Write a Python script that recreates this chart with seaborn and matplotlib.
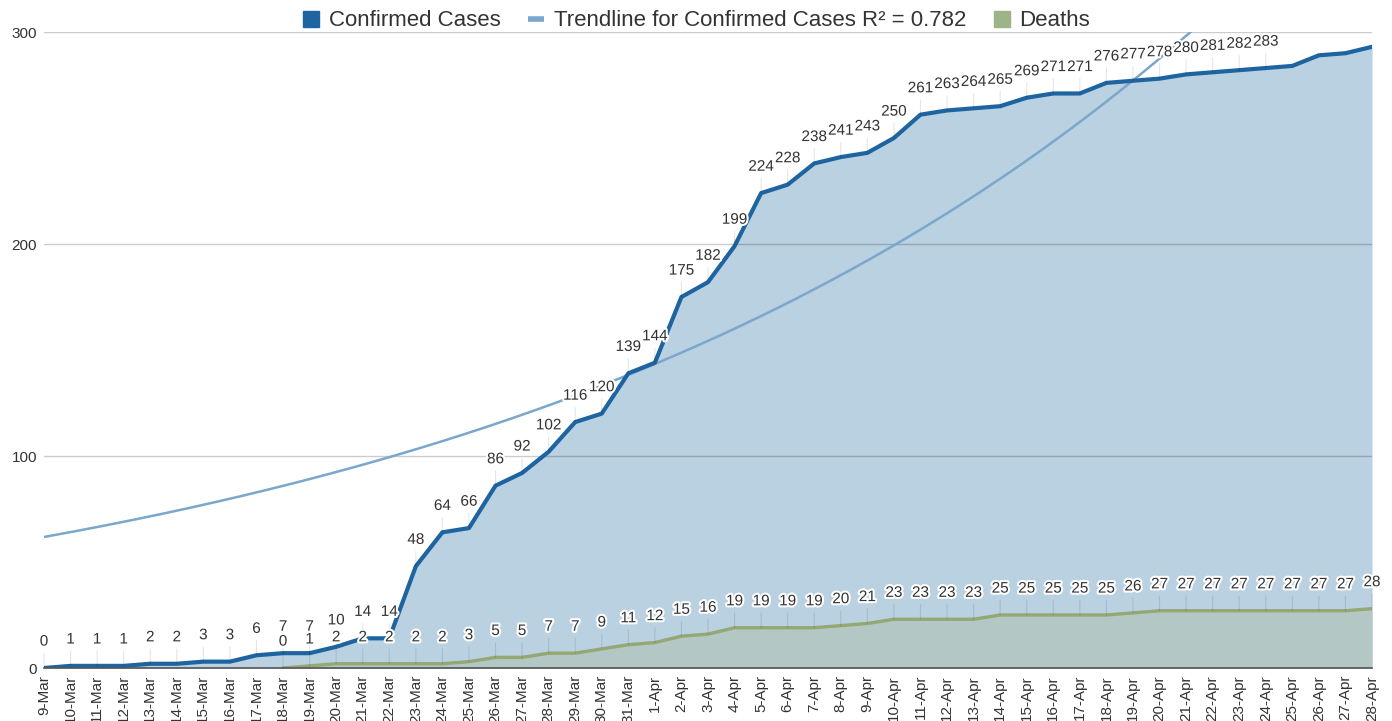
import numpy as np
import pandas as pd
import matplotlib
matplotlib.use("Agg")
import matplotlib.pyplot as plt
import matplotlib.patheffects as pe
from matplotlib.lines import Line2D
import seaborn as sns

days = ['9-Mar', '10-Mar', '11-Mar', '12-Mar', '13-Mar', '14-Mar', '15-Mar', '16-Mar',
        '17-Mar', '18-Mar', '19-Mar', '20-Mar', '21-Mar', '22-Mar', '23-Mar', '24-Mar',
        '25-Mar', '26-Mar', '27-Mar', '28-Mar', '29-Mar', '30-Mar', '31-Mar',
        '1-Apr', '2-Apr', '3-Apr', '4-Apr', '5-Apr', '6-Apr', '7-Apr', '8-Apr', '9-Apr',
        '10-Apr', '11-Apr', '12-Apr', '13-Apr', '14-Apr', '15-Apr', '16-Apr', '17-Apr',
        '18-Apr', '19-Apr', '20-Apr', '21-Apr', '22-Apr', '23-Apr', '24-Apr', '25-Apr',
        '26-Apr', '27-Apr', '28-Apr']

confirmed = [0, 1, 1, 1, 2, 2, 3, 3, 6, 7, 7, 10, 14, 14, 48, 64, 66, 86, 92, 102, 116, 120, 139,
             144, 175, 182, 199, 224, 228, 238, 241, 243, 250, 261, 263, 264, 265, 269, 271, 271,
             276, 277, 278, 280, 281, 282, 283, 284, 289, 290, 293]

deaths = [None] * 9 + [0, 1, 2, 2, 2, 2, 2, 3, 5, 5, 7, 7, 9, 11,
                       12, 15, 16, 19, 19, 19, 19, 20, 21, 23, 23, 23, 23, 25, 25, 25, 25,
                       25, 26, 27, 27, 27, 27, 27, 27, 27, 27, 28]

# confirmed-case labels shown in the reference (last four hidden under the legend)
n_confirmed_labels = 47

# exponential trendline: y = a * exp(b * x)
trend_a = 61.8
trend_b = 0.0366
r_squared = 0.782

yticks = [0, 100, 200, 300]

C_LINE = '#1d64a0'
C_FILL = '#bad1e2'
C_TREND = '#7aa7cb'
C_DLINE = '#93a873'
C_DFILL = '#b3c7c4'
C_TEXT = '#333333'

sns.set_style("white")
plt.rcParams['font.family'] = ['Liberation Sans', 'DejaVu Sans']

df = pd.DataFrame({'x': np.arange(len(days)), 'day': days,
                   'confirmed': confirmed,
                   'deaths': pd.to_numeric(pd.Series(deaths), errors='coerce')})

fig = plt.figure(figsize=(13.92, 7.21), dpi=100)
ax = fig.add_axes([44 / 1392, 1 - 668 / 721, (1372 - 44) / 1392, (668 - 32) / 721])

# areas
ax.fill_between(df['x'], 0, df['confirmed'], color=C_FILL, lw=0, zorder=1)
dd = df.dropna(subset=['deaths'])
ax.fill_between(dd['x'], 0, dd['deaths'], color=C_DFILL, lw=0, zorder=1.1)

# trendline
xt = np.linspace(0, len(days) - 1, 400)
trend_df = pd.DataFrame({'x': xt, 'y': trend_a * np.exp(trend_b * xt)})
sns.lineplot(data=trend_df, x='x', y='y', ax=ax, color=C_TREND, lw=1.8, zorder=2.2)

# lines
sns.lineplot(data=df, x='x', y='confirmed', ax=ax, color=C_LINE, lw=3.0, zorder=2.5)
sns.lineplot(data=dd, x='x', y='deaths', ax=ax, color=C_DLINE, lw=2.4, zorder=2.4)

halo = [pe.withStroke(linewidth=3, foreground='white')]

def label(x, y, txt):
    ax.annotate(txt, xy=(x, y), xytext=(0, 19), textcoords='offset points',
                ha='center', va='center', fontsize=11, color=C_TEXT,
                path_effects=halo, zorder=4,
                arrowprops=dict(arrowstyle='-', color='#000000', alpha=0.1, lw=0.8,
                                shrinkA=1, shrinkB=0),
                annotation_clip=False)

for i in range(n_confirmed_labels):
    label(i, confirmed[i], str(confirmed[i]))
for _, r in dd.iterrows():
    label(r['x'], r['deaths'], str(int(r['deaths'])))

ax.set_xlim(0, len(days) - 1)
ax.set_ylim(0, 300)
ax.set_xticks(df['x'])
ax.set_xticklabels(days, rotation=90, fontsize=11, color=C_TEXT)
ax.set_yticks(yticks)
ax.set_yticklabels([str(v) for v in yticks], fontsize=11, color=C_TEXT)
ax.tick_params(axis='both', length=0, pad=5)
ax.set_xlabel('')
ax.set_ylabel('')
for s in ['left', 'right', 'top']:
    ax.spines[s].set_visible(False)
ax.spines['bottom'].set_color('#555555')
ax.spines['bottom'].set_linewidth(1.2)
ax.spines['bottom'].set_zorder(3)
ax.yaxis.grid(True, color='#000000', alpha=0.2, lw=1)
ax.set_axisbelow('line')

handles = [
    Line2D([], [], lw=0, marker='s', markersize=11, color=C_LINE),
    Line2D([], [], lw=0, marker='_', markersize=12, mew=4, color=C_TREND),
    Line2D([], [], lw=0, marker='s', markersize=11, color='#9cb487'),
]
labels = ['Confirmed Cases', f'Trendline for Confirmed Cases R² = {r_squared}', 'Deaths']
fig.legend(handles, labels, loc='center', bbox_to_anchor=(0.5, 1 - 21 / 721), ncol=3,
           frameon=False, fontsize=16, handlelength=0.8, handletextpad=0.4,
           columnspacing=1.2, labelcolor=C_TEXT)

fig.savefig('out.png', dpi=100)
